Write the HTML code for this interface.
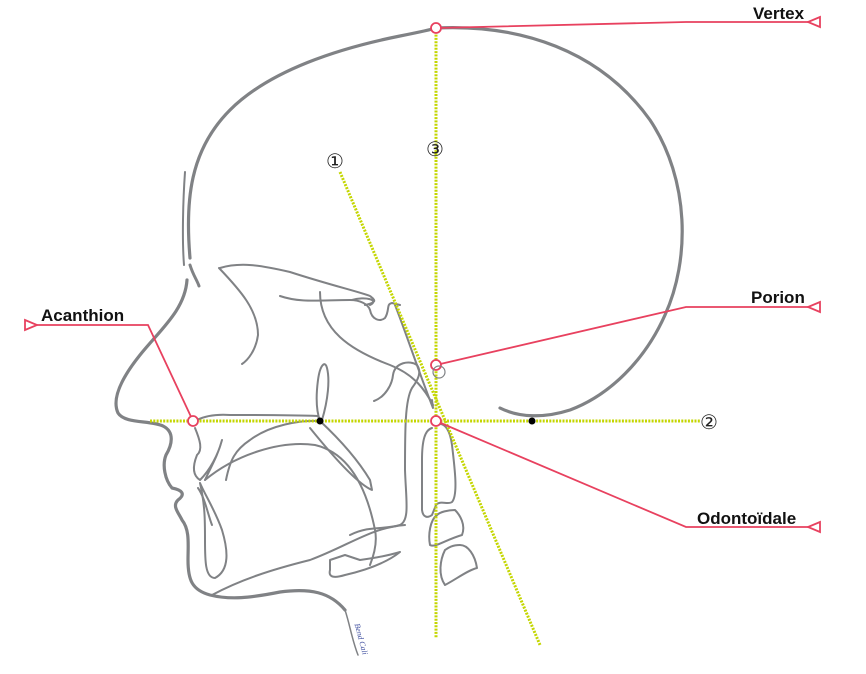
<!DOCTYPE html>
<html><head><meta charset="utf-8"><style>
html,body{margin:0;padding:0;background:#fff;}
svg{display:block;}
.b{font-family:"Liberation Sans",sans-serif;font-weight:bold;font-size:17px;fill:#111;}
.n{font-family:"DejaVu Sans",sans-serif;font-size:20px;fill:#222;}
</style></head><body>
<svg width="866" height="674" viewBox="0 0 866 674" xmlns="http://www.w3.org/2000/svg">
<g fill="none" stroke="#808285" stroke-linecap="round" stroke-linejoin="round">
<path stroke-width="3.2" d="M190,258 C185,200 190,150 230,110 C270,70 340,48 400,36 C420,32 430,30 436,28 C520,24 600,50 650,120 C690,180 690,260 665,315 C645,360 610,395 570,410 C545,418 520,418 500,408"/>
<path stroke-width="3.2" d="M187,280 C185,310 160,330 140,355 C120,380 112,400 118,413 C125,424 150,420 163,426 C175,432 172,445 166,455 C162,465 165,480 172,488 C182,490 186,494 178,500 C172,506 178,512 182,520 C190,530 188,545 188,560 C188,580 192,590 210,595 C230,600 250,598 280,592 C310,588 330,592 345,610"/>
<path stroke-width="2" d="M185,172 C183,200 182,240 184,265"/>
<path stroke-width="3" d="M190,265 C193,275 197,280 199,286"/>
<path stroke-width="1.5" d="M345,610 C350,625 352,640 358,655"/>
<path stroke-width="2" d="M220,268 C240,262 260,265 290,272 C330,285 360,292 370,296 C375,300 378,302 365,305 M352,300 C365,296 380,300 370,305"/>
<path stroke-width="2" d="M219,268 C240,290 258,310 258,335 C256,350 248,360 242,364"/>
<path stroke-width="2" d="M280,296 C300,303 320,300 350,300 C360,300 368,304 370,310 C372,320 380,322 385,318 C390,310 386,304 392,303 L400,305"/>
<path stroke-width="2" d="M320,292 C320,330 350,350 390,365 C415,375 425,390 433,405"/>
<path stroke-width="2" d="M395,305 C405,330 418,370 433,408 L432,400"/>
<path stroke-width="2" d="M374,401 C385,397 392,385 393,375 C395,362 410,360 417,365 C422,372 418,380 412,388 C405,400 405,430 405,470 C406,500 410,520 400,525 C385,530 370,525 350,535"/>
<path stroke-width="2" d="M197,420 C205,416 215,414 230,415 C260,415 290,415 318,416 L320,421"/>
<path stroke-width="2" d="M320,421 C316,410 316,395 318,380 C320,365 325,360 327,368 C330,380 328,400 322,420"/>
<path stroke-width="2" d="M320,421 C335,435 355,455 370,480 L372,490 C360,485 340,465 310,428"/>
<path stroke-width="2" d="M320,421 C300,420 270,425 250,440 C235,450 230,460 226,480"/>
<path stroke-width="2" d="M205,480 C235,455 280,440 315,445 C345,452 365,480 375,530 C378,545 372,560 370,565"/>
<path stroke-width="2" d="M212,595 C240,580 270,570 310,560 C350,545 370,528 405,525"/>
<path stroke-width="2" d="M330,560 L345,555 L360,560 C375,558 390,555 400,552 C390,560 375,568 345,575 C335,578 328,578 330,570 Z"/>
<path stroke-width="2" d="M195,428 C200,440 203,450 197,455 C193,465 192,475 200,480 C210,470 218,455 222,440 C218,455 212,465 205,480"/>
<path stroke-width="2" d="M200,483 C205,495 215,510 222,530 C228,550 230,570 215,578 C205,578 205,560 205,540 C205,520 205,505 200,483"/>
<path stroke-width="2" d="M198,488 C205,498 208,515 212,525"/>
<path stroke-width="2" d="M432,428 C425,430 422,440 422,460 L422,510 C423,518 428,518 432,515 L436,505 C440,500 448,505 452,502 C458,495 455,470 452,445 C450,430 445,424 440,424"/>
<path stroke-width="2" d="M437,515 C430,520 428,535 430,545 C435,548 445,540 462,535 C466,525 460,515 455,510 C448,510 440,512 437,515 Z"/>
<path stroke-width="2" d="M445,550 C440,560 438,575 445,585 C455,580 468,570 477,568 C475,555 468,545 460,545 C452,545 448,548 445,550 Z"/>
</g>
<g stroke="#c4d600" stroke-width="3" stroke-dasharray="2,1.3" fill="none">
<line x1="436" y1="28" x2="436" y2="638"/>
<line x1="150" y1="421" x2="700" y2="421"/>
<line x1="340" y1="172" x2="540" y2="645"/>
</g>
<g stroke="#e8415f" stroke-width="1.8" fill="none">
<polyline points="436,28 686,22 808,22"/>
<polyline points="436,365 686,307 808,307"/>
<polyline points="436,421 686,527 808,527"/>
<polyline points="193,421 148,325 36,325"/>
<polygon points="820,17 808,22 820,27" fill="#fff"/>
<polygon points="820,302 808,307 820,312" fill="#fff"/>
<polygon points="820,522 808,527 820,532" fill="#fff"/>
<polygon points="25,320 37,325 25,330" fill="#fff"/>
<circle cx="436" cy="28" r="5" fill="#fff"/>
<circle cx="436" cy="365" r="5" fill="#fff"/>
<circle cx="436" cy="421" r="5" fill="#fff"/>
<circle cx="193" cy="421" r="5" fill="#fff"/>
</g>
<circle cx="439" cy="372" r="6" fill="none" stroke="#808285" stroke-width="1.2"/>
<circle cx="320" cy="421" r="3.5" fill="#000"/>
<circle cx="532" cy="421" r="3.5" fill="#000"/>
<text class="b" x="753" y="19">Vertex</text>
<text class="b" x="751" y="303">Porion</text>
<text class="b" x="697" y="524">Odontoïdale</text>
<text class="b" x="41" y="321">Acanthion</text>
<text class="n" x="326" y="168">①</text>
<text class="n" x="426" y="156">③</text>
<text class="n" x="700" y="429">②</text>
<text x="350" y="630" font-family="Liberation Serif,serif" font-style="italic" font-size="8" fill="#4050a0" transform="rotate(75 356 630)">Bend Cali</text>
</svg>
</body></html>
